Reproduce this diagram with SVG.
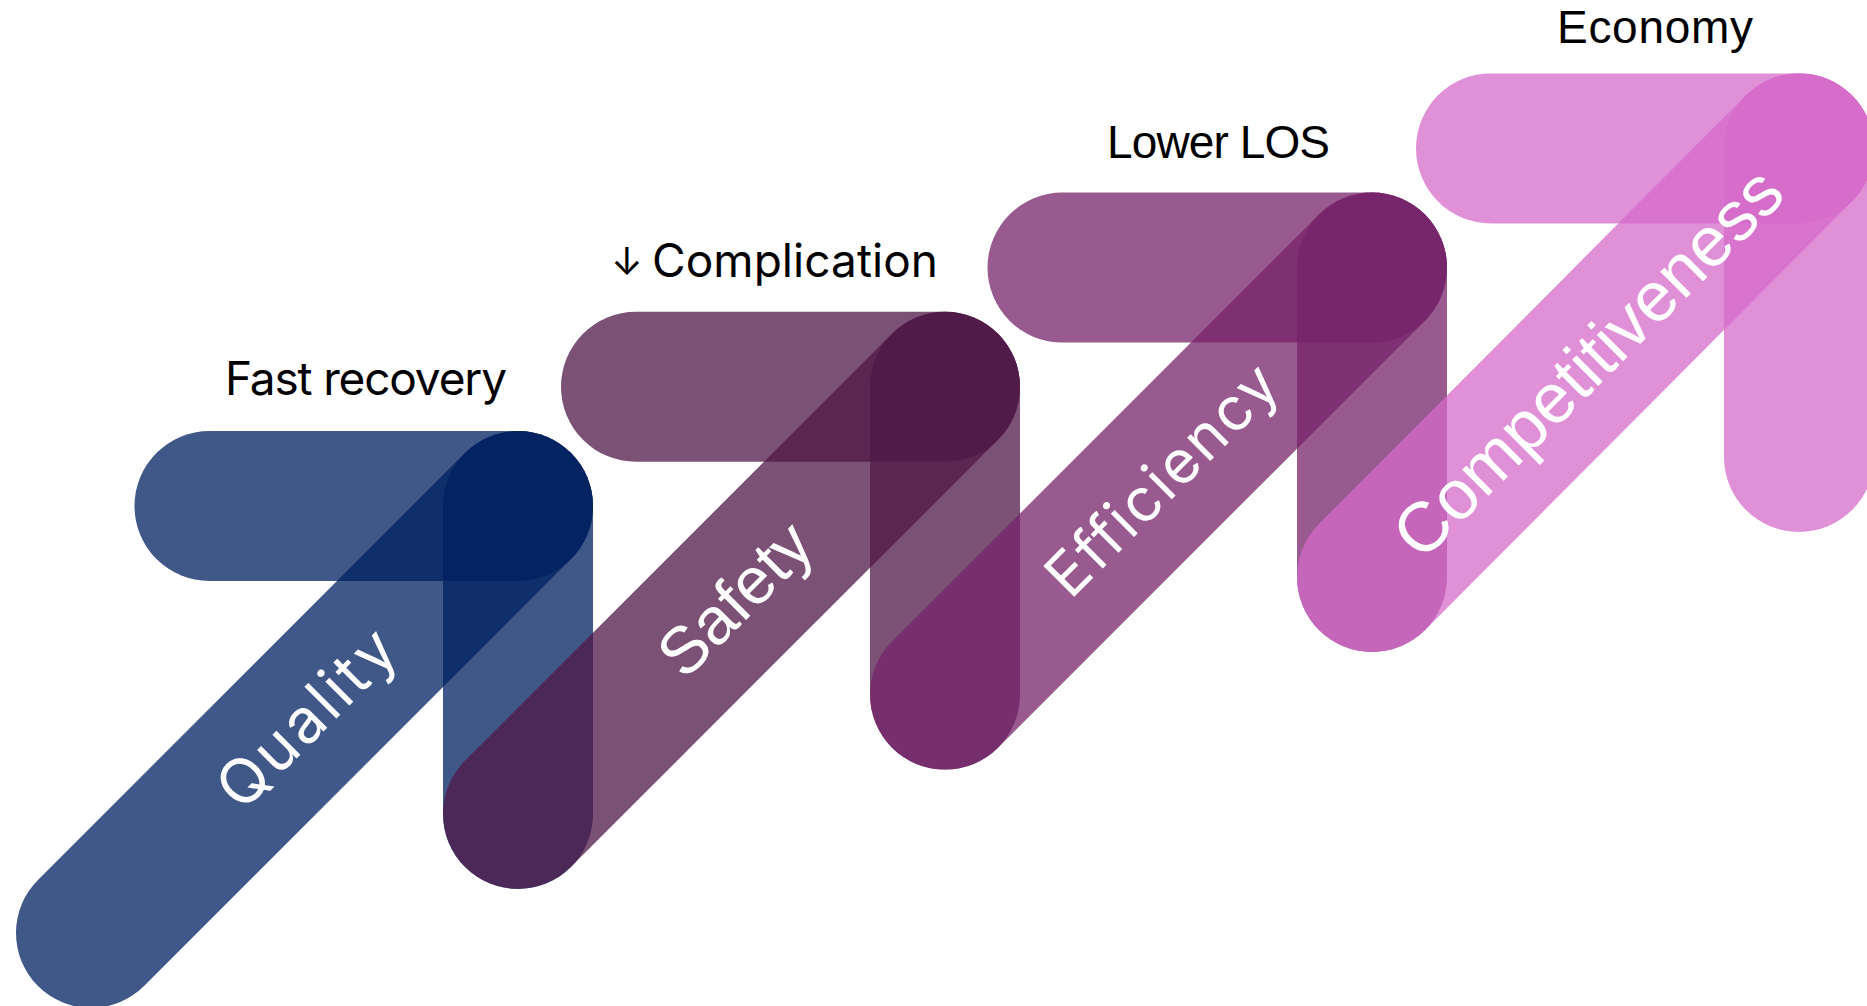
<svg xmlns="http://www.w3.org/2000/svg" width="1867" height="1006" viewBox="0 0 1867 1006">
  <style>
    .bar { fill: none; stroke-width: 150; stroke-linecap: round; stroke-opacity: 0.75; }
    .quality { stroke: #002060; }
    .safety { stroke: #4F1847; }
    .efficiency { stroke: #76236A; }
    .compet { stroke: #D66BCA; }
    .band { fill: #FFFFFF; text-anchor: middle; }
    .top { fill: #000000; font-size: 46px; }
    .aptos { font-family: Inter, "Liberation Sans", "DejaVu Sans", sans-serif; }
    .arial { font-family: "Liberation Sans", Arial, sans-serif; }
  </style>
  <rect width="1867" height="1006" fill="#FFFFFF"/>

  <!-- Step 1: Quality -->
  <g id="quality">
    <line class="bar quality" x1="209.5" y1="506" x2="518" y2="506"/>
    <line class="bar quality" x1="518" y1="506" x2="518" y2="814"/>
    <line class="bar quality" x1="91" y1="933" x2="518" y2="506"/>
    <text class="band aptos" transform="translate(306 718) rotate(-45)" x="0" y="22" font-size="62" textLength="225">Quality</text>
    <text class="top aptos" x="225" y="395" textLength="282">Fast recovery</text>
  </g>

  <!-- Step 2: Safety -->
  <g id="safety">
    <line class="bar safety" x1="636" y1="386.8" x2="945" y2="386.8"/>
    <line class="bar safety" x1="945" y1="386.8" x2="945" y2="694.6"/>
    <line class="bar safety" x1="518" y1="813.8" x2="945" y2="386.8"/>
    <text class="band arial" transform="translate(734 598) rotate(-45)" x="0" y="24" font-size="66">Safety</text>
    <text class="top aptos" x="611" y="275"><tspan font-size="38">↓</tspan> <tspan x="652" y="277" textLength="286">Complication</tspan></text>
  </g>

  <!-- Step 3: Efficiency -->
  <g id="efficiency">
    <line class="bar efficiency" x1="1062.5" y1="267.6" x2="1372" y2="267.6"/>
    <line class="bar efficiency" x1="1372" y1="267.6" x2="1372" y2="577"/>
    <line class="bar efficiency" x1="945" y1="694.6" x2="1372" y2="267.6"/>
    <text class="band aptos" transform="translate(1161 479) rotate(-45)" x="0" y="22" font-size="60" textLength="300">Efficiency</text>
    <text class="top arial" x="1107" y="158" textLength="223">Lower LOS</text>
  </g>

  <!-- Step 4: Competitiveness -->
  <g id="competitiveness">
    <line class="bar compet" x1="1491" y1="148.4" x2="1799" y2="148.4"/>
    <line class="bar compet" x1="1799" y1="148.4" x2="1799" y2="457"/>
    <line class="bar compet" x1="1372" y1="577" x2="1799" y2="148.4"/>
    <text class="band arial" transform="translate(1587 362) rotate(-45)" x="0" y="25" font-size="70">Competitiveness</text>
    <text class="top arial" x="1557" y="43" textLength="196">Economy</text>
  </g>
</svg>
